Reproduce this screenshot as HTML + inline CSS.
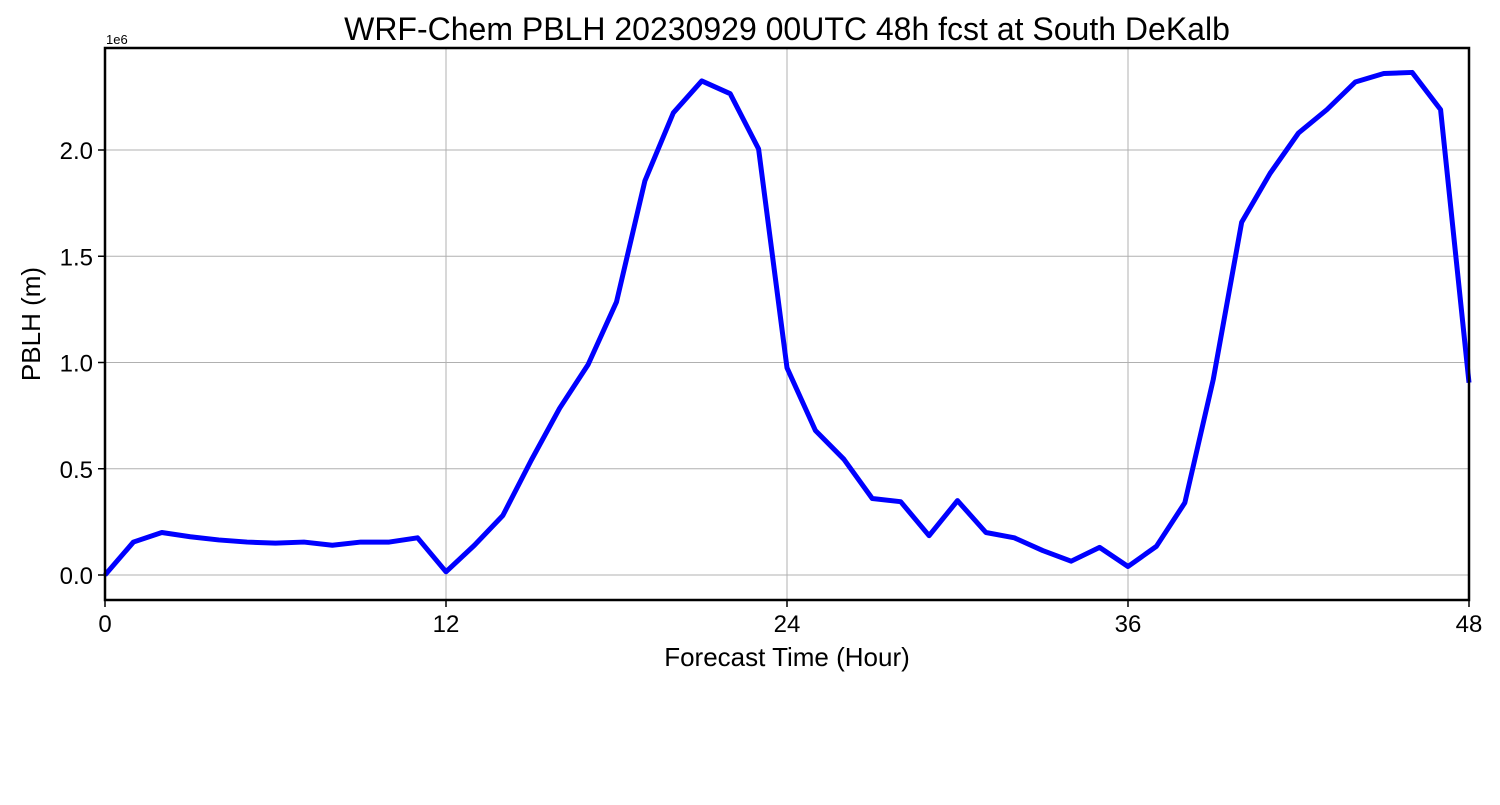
<!DOCTYPE html>
<html><head><meta charset="utf-8"><style>
body{margin:0;background:#fff;}
svg{font-family:"Liberation Sans","DejaVu Sans",sans-serif;}
</style></head><body>
<svg id="c" width="1500" height="800">
<text x="787" y="40" font-size="32" text-anchor="middle">WRF-Chem PBLH  20230929 00UTC 48h fcst at South DeKalb</text>
<g id="grid"></g>
<g id="ticks"></g>
<path id="line" fill="none" stroke="#0000ff" stroke-width="5" stroke-linejoin="round"/>
<rect x="105" y="48" width="1364" height="552" fill="none" stroke="#000" stroke-width="2.5"/>
<text x="106" y="44" font-size="13">1e6</text>
<text x="787" y="666" font-size="26" text-anchor="middle">Forecast Time (Hour)</text>
<text transform="translate(40,324) rotate(-90)" font-size="26" text-anchor="middle">PBLH  (m)</text>
</svg>
<script>
const hours=[0,1,2,3,4,5,6,7,8,9,10,11,12,13,14,15,16,17,18,19,20,21,22,23,24,25,26,27,28,29,30,31,32,33,34,35,36,37,38,39,40,41,42,43,44,45,46,47,48];
const pblh=[0,0.155,0.2,0.18,0.165,0.155,0.15,0.155,0.14,0.155,0.155,0.175,0.015,0.14,0.28,0.54,0.785,0.99,1.285,1.855,2.175,2.325,2.265,2.005,0.975,0.68,0.545,0.36,0.345,0.185,0.35,0.2,0.175,0.115,0.065,0.13,0.04,0.135,0.34,0.92,1.66,1.89,2.08,2.19,2.32,2.36,2.365,2.19,0.905];
const xTicks=[0,12,24,36,48];
const yTicks=[0,0.5,1.0,1.5,2.0];
const yTickLabels=["0.0","0.5","1.0","1.5","2.0"];
const X=h=>105+h*(1364/48);
const Y=v=>575-v*212.5;
const ns="http://www.w3.org/2000/svg";
const grid=document.getElementById('grid'),ticks=document.getElementById('ticks');
function mk(tag,attrs,parent){const e=document.createElementNS(ns,tag);for(const k in attrs)e.setAttribute(k,attrs[k]);parent.appendChild(e);return e;}
xTicks.forEach(t=>{
 const g=mk('line',{x1:X(t),x2:X(t),y1:48,y2:600,stroke:'#b0b0b0','stroke-width':1},grid);
 
 
 const tk=mk('line',{x1:X(t),x2:X(t),y1:600,y2:607,stroke:'#000','stroke-width':1.5},ticks);
 
 
 const tx=mk('text',{x:X(t),y:632,'font-size':24,'text-anchor':'middle'},ticks);
 tx.textContent=t;
 
 
});
yTicks.forEach((t,i)=>{
 const g=mk('line',{x1:105,x2:1469,y1:Y(t),y2:Y(t),stroke:'#b0b0b0','stroke-width':1},grid);
 
 
 const tk=mk('line',{x1:98,x2:105,y1:Y(t),y2:Y(t),stroke:'#000','stroke-width':1.5},ticks);
 
 
 const tx=mk('text',{x:93,y:Y(t)+9,'font-size':24,'text-anchor':'end'},ticks);
 tx.textContent=yTickLabels[i];
 
 
});
document.getElementById('line').setAttribute('d',hours.map((h,i)=>(i?'L':'M')+X(h)+','+Y(pblh[i])).join(' '));
</script>
</body></html>
